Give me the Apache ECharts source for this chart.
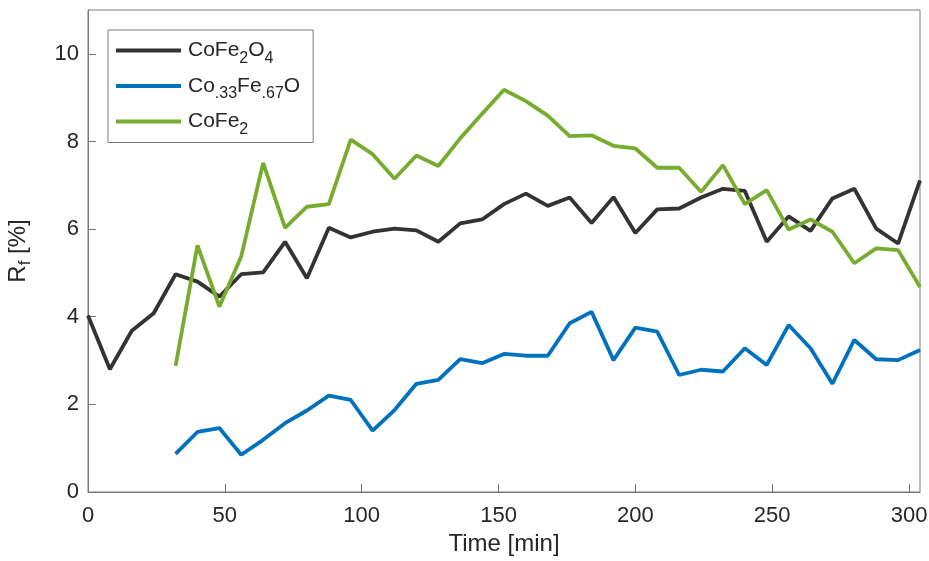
<!DOCTYPE html>
<html lang="en">
<head>
    <meta charset="UTF-8">
    <title>Rf vs time</title>
    <style>
        html, body { margin: 0; padding: 0; background: #fff; }
        #main { width: 929px; height: 561px; }
    </style>
</head>
<body>
<div id="main"></div>
<script src="https://cdn.jsdelivr.net/npm/echarts@6/dist/echarts.min.js"></script>
<script>
    // time axis (min), one sample every 8 min
    const times = [0, 8, 16, 24, 32, 40, 48, 56, 64, 72, 80, 88, 96, 104, 112, 120, 128, 136, 144, 152,
        160, 168, 176, 184, 192, 200, 208, 216, 224, 232, 240, 248, 256, 264, 272, 280, 288, 296, 304];

    // CoFe2O4, all samples
    const cofe2o4 = [4.03, 2.80, 3.68, 4.08, 4.97, 4.80, 4.46, 4.97, 5.01, 5.71, 4.88, 6.03, 5.81, 5.94, 6.01,
        5.97, 5.71, 6.13, 6.22, 6.57, 6.81, 6.53, 6.72, 6.14, 6.73, 5.91, 6.45, 6.47, 6.72, 6.92,
        6.87, 5.71, 6.29, 5.96, 6.70, 6.92, 6.01, 5.67, 7.11];

    // Co.33Fe.67O and CoFe2 start at t = 32
    const coFeO = [0.87, 1.37, 1.46, 0.85, 1.19, 1.57, 1.86, 2.20, 2.10, 1.40, 1.87, 2.47, 2.56, 3.03, 2.94,
        3.15, 3.11, 3.11, 3.85, 4.11, 3.01, 3.75, 3.66, 2.67, 2.79, 2.75, 3.28, 2.90, 3.81, 3.28,
        2.47, 3.47, 3.03, 3.01, 3.24];
    const cofe2 = [2.88, 5.63, 4.23, 5.38, 7.51, 6.03, 6.51, 6.57, 8.04, 7.71, 7.15, 7.68, 7.44, 8.07, 8.63,
        9.18, 8.92, 8.59, 8.12, 8.14, 7.90, 7.84, 7.40, 7.40, 6.85, 7.46, 6.57, 6.89, 5.99, 6.22,
        5.94, 5.22, 5.56, 5.52, 4.68];

    const names = ['CoFe2O4', 'Co.33Fe.67O', 'CoFe2'];
    const legendText = {
        'CoFe2O4': '{n|CoFe}{s|2}{n|O}{s|4}',
        'Co.33Fe.67O': '{n|Co}{s|.33}{n|Fe}{s|.67}{n|O}',
        'CoFe2': '{n|CoFe}{s|2}'
    };
    const colors = ['#333333', '#0072BD', '#77AC30'];

    const font = 'Liberation Sans, Arial, Helvetica, sans-serif';
    const textColor = '#262626';
    const axisColor = '#7a7a7a';

    // main text + lowered subscript
    function subRich(size, subSize) {
        return {
            n: { fontSize: size, lineHeight: 32, verticalAlign: 'middle', color: textColor, fontFamily: font },
            s: { fontSize: subSize, lineHeight: 14, verticalAlign: 'bottom', color: textColor, fontFamily: font }
        };
    }

    // pair each value with its time, skipping the leading empty samples
    function pairs(values) {
        const offset = times.length - values.length;
        return values.map((v, i) => [times[i + offset], v]);
    }

    const myChart = echarts.init(document.getElementById('main'));

    const option = {
        animation: false,
        backgroundColor: '#fff',
        textStyle: { fontFamily: font },
        color: colors,
        grid: {
            left: 88, right: 9, top: 10, bottom: 69,
            containLabel: false,
            outerBoundsMode: 'none',
            show: true, borderColor: axisColor, borderWidth: 1
        },
        legend: {
            orient: 'vertical',
            left: 108, top: 30,
            padding: [10, 13, 5, 8],
            itemGap: 9,
            itemWidth: 65,
            itemHeight: 4,
            icon: 'rect',
            borderColor: axisColor,
            borderWidth: 1,
            borderRadius: 0,
            backgroundColor: '#fff',
            data: names,
            formatter: (name) => legendText[name],
            textStyle: {
                color: textColor,
                fontFamily: font,
                padding: [0, 0, 0, 2],
                rich: subRich(21, 16)
            }
        },
        xAxis: {
            type: 'value',
            min: 0, max: 304, interval: 50,
            name: 'Time [min]',
            nameLocation: 'middle',
            nameGap: 40,
            nameTextStyle: { fontSize: 24, lineHeight: 24, color: textColor, fontFamily: font },
            axisLine: { show: true, lineStyle: { color: axisColor, width: 1 } },
            axisTick: { show: true, inside: true, length: 8, lineStyle: { color: axisColor } },
            axisLabel: { showMaxLabel: false, fontSize: 22, color: textColor, margin: 13, fontFamily: font },
            splitLine: { show: false }
        },
        yAxis: {
            type: 'value',
            min: 0, max: 11, interval: 2,
            name: '{n|R}{s|f}{n| [%]}',
            nameLocation: 'middle',
            nameGap: 54,
            nameTextStyle: {
                color: textColor,
                fontFamily: font,
                rich: subRich(24, 17)
            },
            axisLine: { show: true, lineStyle: { color: axisColor, width: 1 } },
            axisTick: { show: true, inside: true, length: 8, lineStyle: { color: axisColor } },
            axisLabel: { showMaxLabel: false, fontSize: 22, color: textColor, margin: 9, fontFamily: font },
            splitLine: { show: false }
        },
        series: [
            { name: names[0], data: pairs(cofe2o4) },
            { name: names[1], data: pairs(coFeO) },
            { name: names[2], data: pairs(cofe2) }
        ].map((s, i) => Object.assign({
            type: 'line',
            symbol: 'none',
            lineStyle: { width: 3.8, color: colors[i] },
            itemStyle: { color: colors[i] }
        }, s))
    };

    myChart.setOption(option);
</script>
</body>
</html>
